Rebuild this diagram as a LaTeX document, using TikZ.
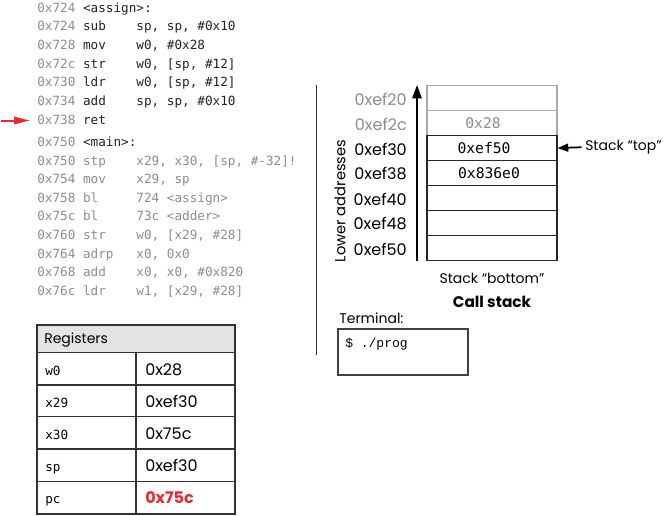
\documentclass[tikz,border=0pt]{standalone}
\usepackage{fontspec}
\setmainfont{Poppins}
\setmonofont{DejaVu Sans Mono}
\newfontfamily\termfont{Liberation Mono}
\usetikzlibrary{arrows.meta}
\definecolor{codegray}{HTML}{8C8C8C}
\definecolor{codeblack}{HTML}{222222}
\definecolor{cellgray}{HTML}{A8A8A8}
\definecolor{pcred}{HTML}{EC2A2E}
\definecolor{headgray}{HTML}{E4E4E6}
\newcommand{\asm}[3]{\makebox[3.612em][l]{\color{codegray}#1}\makebox[4.214em][l]{#2}#3}

\begin{document}
\begin{tikzpicture}[x=0.75pt,y=-0.75pt,
    code/.style ={anchor=base west, inner sep=0pt, text=codeblack, font=\ttfamily\fontsize{9.5}{11}\selectfont},
    cell/.style ={draw=black!85, line width=0.9pt, minimum width=97.5pt, minimum height=18.75pt, inner sep=0pt},
    value/.style ={inner sep=0pt, font=\ttfamily\fontsize{11}{13}\selectfont},
    addr/.style ={anchor=east, inner sep=0pt, font=\fontsize{12}{14}\selectfont},
    lbl/.style ={inner sep=0pt, font=\fontsize{10.5}{12}\selectfont},
    reg/.style ={anchor=base west, inner sep=0pt, font=\ttfamily\fontsize{9.5}{11}\selectfont},
    regval/.style ={anchor=base west, inner sep=0pt, font=\fontsize{12}{14}\selectfont}]
   \useasboundingbox (0,0) rectangle (667,515);

   \node[code] (c1) at (37,12) {\asm{0x724}{<assign>:}{}};
   \node[code] (c2) at (37,30.7) {\asm{0x724}{sub}{sp, sp, \#0x10}};
   \node[code] (c3) at (37,49.4) {\asm{0x728}{mov}{w0, \#0x28}};
   \node[code] (c4) at (37,68.1) {\asm{0x72c}{str}{w0, [sp, \#12]}};
   \node[code] (c5) at (37,86.8) {\asm{0x730}{ldr}{w0, [sp, \#12]}};
   \node[code] (c6) at (37,105.5) {\asm{0x734}{add}{sp, sp, \#0x10}};
   \node[code] (c7) at (37,124.2) {\asm{0x738}{ret}{}};
   \node[code] (c8) at (37,146.5) {\asm{0x750}{<main>:}{}};
   \node[code, text=codegray] (c9) at (37,165.1) {\asm{0x750}{stp}{x29, x30, [sp, \#-32]!}};
   \node[code, text=codegray] (c10) at (37,183.7) {\asm{0x754}{mov}{x29, sp}};
   \node[code, text=codegray] (c11) at (37,202.3) {\asm{0x758}{bl}{724 <assign>}};
   \node[code, text=codegray] (c12) at (37,220.9) {\asm{0x75c}{bl}{73c <adder>}};
   \node[code, text=codegray] (c13) at (37,239.5) {\asm{0x760}{str}{w0, [x29, \#28]}};
   \node[code, text=codegray] (c14) at (37,258.1) {\asm{0x764}{adrp}{x0, 0x0}};
   \node[code, text=codegray] (c15) at (37,276.7) {\asm{0x768}{add}{x0, x0, \#0x820}};
   \node[code, text=codegray] (c16) at (37,295.3) {\asm{0x76c}{ldr}{w1, [x29, \#28]}};

   \coordinate (pcin) at (1,120.5);
   \draw[pcred, line width=1.5pt, -{Triangle[length=12pt,width=5.5pt]}] (pcin) to (30,120.5);

   \draw[line width=1pt, black!80] (316.5,85) to (316.5,355);

   \node[cell, draw=cellgray] (s1) at (492,98) {};
   \node[cell, draw=cellgray] (s2) at (492,123) {};
   \node[cell] (s3) at (492,148) {};
   \node[cell] (s4) at (492,173) {};
   \node[cell] (s5) at (492,198) {};
   \node[cell] (s6) at (492,223) {};
   \node[cell] (s7) at (492,248) {};

   \node[value, text=codegray] (v2) at (483,123.5) {0x28};
   \node[value] (v3) at (484,148.5) {0xef50};
   \node[value] (v4) at (489,173.5) {0x836e0};

   \node[addr, text=codegray] (a1) at (407,99) {0xef20};
   \node[addr, text=codegray] (a2) at (407,124) {0xef2c};
   \node[addr] (a3) at (407,149) {0xef30};
   \node[addr] (a4) at (407,174) {0xef38};
   \node[addr] (a5) at (407,199) {0xef40};
   \node[addr] (a6) at (407,224) {0xef48};
   \node[addr] (a7) at (407,249) {0xef50};

   \coordinate (lo) at (417,261);
   \coordinate (hi) at (417,85);
   \draw[line width=1.3pt, -{Triangle[length=10pt,width=7pt]}] (lo) to (hi);
   \node[lbl, rotate=90, font=\fontsize{11}{13}\selectfont] (lower) at (340,201) {Lower addresses};

   \node[lbl, anchor=base west] (top) at (585,150.5) {Stack “top”};
   \draw[line width=1.3pt, -{Triangle[length=8pt,width=6pt]}, shorten <=2.5pt] (top.west) to (s3.east);

   \node[lbl, anchor=base] (bottom) at (492,283) {Stack “bottom”};
   \node[lbl, anchor=base, font=\bfseries\fontsize{11.5}{14}\selectfont] (callstack) at (492,307) {Call stack};

   \node[lbl, anchor=base west] (termlbl) at (339,323.5) {Terminal:};
   \node[draw=black!75, line width=0.9pt, minimum width=97.5pt, minimum height=34.5pt, inner sep=0pt] (term) at (403,352) {};
   \node[inner sep=0pt, anchor=west, font=\termfont\fontsize{9.75}{11}\selectfont] (cmd) at (345,344) {\$ ./prog};

   \fill[headgray] (37,325) rectangle (235,352.7);
   \draw[black!80, line width=0.9pt] (37,325) rectangle (235,514);
   \draw[black!80, line width=0.9pt] (37,352.7) to (235,352.7);
   \draw[black!80, line width=0.9pt] (37,385) to (235,385);
   \draw[black!80, line width=0.9pt] (37,416.7) to (235,416.7);
   \draw[black!80, line width=0.9pt] (37,449) to (235,449);
   \draw[black!80, line width=0.9pt] (37,481.7) to (235,481.7);
   \draw[black!80, line width=0.9pt] (136,352.7) to (136,514);

   \node[lbl, anchor=base west] (head) at (44,343.3) {Registers};
   \node[reg] (r1) at (45,375) {w0};
   \node[reg] (r2) at (45,407) {x29};
   \node[reg] (r3) at (45,439.3) {x30};
   \node[reg] (r4) at (45,471.5) {sp};
   \node[reg] (r5) at (45,503.8) {pc};
   \node[regval] (g1) at (145,375) {0x28};
   \node[regval] (g2) at (145,407) {0xef30};
   \node[regval] (g3) at (145,439.3) {0x75c};
   \node[regval] (g4) at (145,471.5) {0xef30};
   \node[regval, text=pcred, font=\bfseries\fontsize{12}{14}\selectfont] (g5) at (145,503.8) {0x75c};
 \end{tikzpicture}
\end{document}
